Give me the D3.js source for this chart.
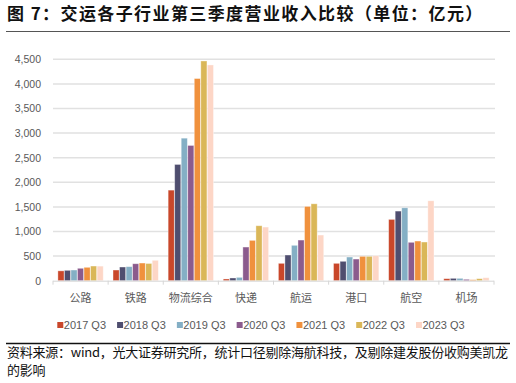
<!DOCTYPE html>
<html><head><meta charset="utf-8">
<script src="https://cdn.jsdelivr.net/npm/d3@7"></script>
<style>
html,body{margin:0;padding:0;background:#fff;}
svg{display:block;}
</style>
</head><body>
<script>
const categories = ["公路","铁路","物流综合","快递","航运","港口","航空","机场"];
const seriesNames = ["2017 Q3","2018 Q3","2019 Q3","2020 Q3","2021 Q3","2022 Q3","2023 Q3"];
const v2017 = [200, 217, 1841, 35, 353, 353, 1246, 41];
const v2018 = [211, 278, 2363, 55, 522, 394, 1415, 48];
const v2019 = [217, 285, 2897, 68, 719, 481, 1482, 48];
const v2020 = [252, 345, 2749, 684, 826, 440, 780, 28];
const v2021 = [272, 359, 4109, 820, 1510, 495, 806, 20];
const v2022 = [298, 350, 4466, 1117, 1563, 495, 786, 41];
const v2023 = [296, 414, 4385, 1090, 928, 508, 1624, 61];
const seriesValues = [v2017, v2018, v2019, v2020, v2021, v2022, v2023];
const colors = ["#C9472A","#4F4E6F","#84AFC5","#8B5B8D","#F0913D","#DAB758","#FDD6C6"];
const yTicks = [0,500,1000,1500,2000,2500,3000,3500,4000,4500];
const title = "图 7：交运各子行业第三季度营业收入比较（单位：亿元）";
const source1 = "资料来源：wind，光大证券研究所，统计口径剔除海航科技，及剔除建发股份收购美凯龙";
const source2 = "的影响";

const W = 516, H = 383;
const svg = d3.select("body").append("svg").attr("width", W).attr("height", H);
const cjk = "'Noto Sans CJK SC','Noto Sans',sans-serif";
const latin = "'Liberation Sans',Arial,sans-serif";

// title
svg.append("text").attr("x", 7).attr("y", 20).text(title)
  .attr("font-family", cjk).attr("font-size", 17).attr("font-weight", "bold")
  .attr("letter-spacing", 1.4).attr("fill", "#111");
svg.append("line").attr("x1", 6).attr("x2", 510).attr("y1", 31.5).attr("y2", 31.5)
  .attr("stroke", "#555").attr("stroke-width", 1);

const plot = {left: 53, right: 494, top: 59.3, bottom: 280.7};
const x0 = d3.scaleBand().domain(categories).range([plot.left, plot.right]).padding(0);
const x1 = d3.scaleBand().domain(seriesNames).range([0, x0.bandwidth()]).paddingInner(0.06).paddingOuter(0.75);
const y = d3.scaleLinear().domain([0, 4500]).range([plot.bottom, plot.top]);

// gridlines
svg.append("g").selectAll("line").data(yTicks.slice(1)).join("line")
  .attr("x1", plot.left).attr("x2", plot.right + 1)
  .attr("y1", d => y(d)).attr("y2", d => y(d))
  .attr("stroke", "#e1e1e1").attr("stroke-width", 1.5);

// y axis labels
const yAxis = d3.axisLeft(y).tickValues(yTicks).tickFormat(d3.format(",")).tickSize(0).tickPadding(12);
const gy = svg.append("g").attr("transform", `translate(${plot.left},0)`).call(yAxis);
gy.select(".domain").remove();
gy.selectAll("text").attr("font-family", latin).attr("font-size", 10.5).attr("fill", "#595959");

// bars
const groups = svg.append("g").selectAll("g").data(categories).join("g")
  .attr("transform", d => `translate(${x0(d)},0)`);
groups.selectAll("rect").data((c, ci) => seriesNames.map((s, si) => ({s, si, v: seriesValues[si][ci]})))
  .join("rect")
  .attr("x", d => x1(d.s)).attr("width", x1.bandwidth())
  .attr("y", d => y(d.v)).attr("height", d => y(0) - y(d.v))
  .attr("fill", d => colors[d.si])
  .attr("stroke", "#fff").attr("stroke-opacity", 0.45).attr("stroke-width", 0.8);

// x axis
const xAxisLine = svg.append("g");
xAxisLine.append("line").attr("x1", plot.left).attr("x2", plot.right)
  .attr("y1", plot.bottom + 0.5).attr("y2", plot.bottom + 0.5)
  .attr("stroke", "#d6d6d6").attr("stroke-width", 1);
const boundaries = categories.map(c => x0(c)).concat([x0(categories[categories.length - 1]) + x0.bandwidth()]);
xAxisLine.selectAll("line.t").data(boundaries).join("line").attr("class", "t")
  .attr("x1", d => d).attr("x2", d => d).attr("y1", plot.bottom).attr("y2", plot.bottom + 4)
  .attr("stroke", "#d6d6d6").attr("stroke-width", 1);
svg.append("g").selectAll("text").data(categories).join("text")
  .attr("x", d => x0(d) + x0.bandwidth() / 2).attr("y", 302)
  .attr("text-anchor", "middle").text(d => d)
  .attr("font-family", cjk).attr("font-size", 11).attr("fill", "#595959");

// legend
const legendX = d3.scalePoint().domain(seriesNames).range([57.3, 416]);
const lg = svg.append("g").selectAll("g").data(seriesNames).join("g")
  .attr("transform", d => `translate(${legendX(d)},325)`);
lg.append("rect").attr("x", 0).attr("y", -3).attr("width", 6).attr("height", 6)
  .attr("fill", (d, i) => colors[i]);
lg.append("text").attr("x", 6.5).attr("y", 4).text(d => d)
  .attr("font-family", latin).attr("font-size", 11).attr("fill", "#595959");

// source
svg.append("line").attr("x1", 6).attr("x2", 510).attr("y1", 343.5).attr("y2", 343.5)
  .attr("stroke", "#111").attr("stroke-width", 1.5);
svg.append("text").attr("x", 7).attr("y", 357).text(source1)
  .attr("font-family", cjk).attr("font-size", 13).attr("letter-spacing", -0.25).attr("fill", "#111");
svg.append("text").attr("x", 7).attr("y", 374.5).text(source2)
  .attr("font-family", cjk).attr("font-size", 13).attr("letter-spacing", -0.25).attr("fill", "#111");
</script>
</body></html>
